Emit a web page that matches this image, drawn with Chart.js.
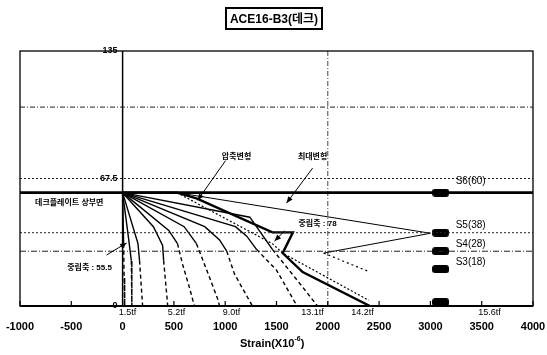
<!DOCTYPE html>
<html>
<head>
<meta charset="utf-8">
<script src="https://cdn.jsdelivr.net/npm/chart.js@4/dist/chart.umd.min.js"></script>
<style>
  body { margin: 0; background: #fff; }
  #wrap { position: relative; width: 547px; height: 355px; }
  #title {
    position: absolute; left: 225px; top: 7px; width: 94px; height: 19px;
    border: 2px solid #000; text-align: center; line-height: 19px;
    font: bold 12px "Liberation Sans", "Noto Sans CJK KR", sans-serif; color: #000;
  }
</style>
</head>
<body>
<div id="wrap">
  <div id="title">ACE16-B3(데크)</div>
  <canvas id="chart" width="547" height="355"></canvas>
</div>
<script>
// axis ticks
const xTicks = [-1000, -500, 0, 500, 1000, 1500, 2000, 2500, 3000, 3500, 4000];
const yTicks = [0, 67.5, 135];

// strain profiles [strain, height] for each load step
const step1 = [[0, 60], [10, 33], [15, 15], [20, 0]];
const step2 = [[0, 60], [60, 35], [85, 24], [90, 0]];
const step3 = [[0, 60], [150, 33], [165, 24], [195, 0]];
const step4 = [[0, 60], [300, 42], [390, 32], [400, 24], [440, 0]];
const step5 = [[0, 60], [450, 40], [535, 33], [585, 22], [650, 10], [700, 0]];
const step6 = [[0, 60], [600, 42], [720, 33], [820, 19], [925, 4], [945, 0]];
const step7 = [[0, 60], [800, 42], [945, 35], [1015, 29], [1090, 17], [1265, 0]];
const step8 = [[0, 60], [1100, 42], [1210, 37], [1305, 30], [1500, 19], [1700, 0]];
const step9 = [[0, 60], [1240, 47], [1460, 30], [1755, 10], [1900, 0]];
const stepMax = [[0, 60], [530, 60], [720, 57], [1460, 39], [1660, 39], [1560, 28], [1755, 18], [2410, 0]];
const stepMaxDot = [[530, 60], [1460, 33], [1560, 28], [2400, 3]];
const gaugeLine = [[530, 60], [3000, 38.5], [1960, 28]];
const gaugeLineDot = [[1960, 28], [2410, 18]];

// load labels along the bottom
const loadNames = ['1.5tf', '5.2tf', '9.0tf', '13.1tf', '14.2tf', '15.6tf'];
const loadAt = [48, 526, 1062, 1851, 2339, 3577];

// gauges
const gaugeX = 3100;
const gaugeY = [60, 38.8, 29, 19.5, 2];
const gaugeNames = ['S6(60)', 'S5(38)', 'S4(28)', 'S3(18)', ''];

// reference levels
const deckTop = 60;
const levelLines = [105.3, 67.5, 38.8, 29];

// callouts: text, text position, arrow start, arrow tip
const notes = [
  ['압축변형', [1111, 79], [1004, 77], [731, 56]],
  ['최대변형', [1852, 79], [1852, 73], [1598, 54.5]],
  ['중립축 : 78', [1900, 43.4], [1579, 39.7], [1481, 34.4]],
  ['중립축 : 55.5', [-322, 20.1], [-156, 27], [39, 33.4]]
];

const pts = arr => arr.map(([x, y]) => ({ x, y }));

// rounded black block for gauge markers
const block = document.createElement('canvas');
block.width = 17; block.height = 8;
(() => {
  const c = block.getContext('2d');
  c.fillStyle = '#000';
  c.beginPath();
  c.roundRect(0, 0, 17, 8, 3);
  c.fill();
})();

const lowDash = { borderDash: c => (c.p1.parsed.y < 24 ? [4, 3] : undefined) };

const line = (data, extra) => Object.assign({
  type: 'line', data: pts(data), borderColor: '#000', borderWidth: 1.2,
  pointRadius: 0, fill: false, tension: 0
}, extra || {});

const datasets = [];
levelLines.forEach((v, i) => {
  const dash = [[5, 2, 1, 2], [2, 2], [2, 2], [6, 2, 1, 2]][i];
  datasets.push(line([[-1000, v], [4000, v]], { borderWidth: 1, borderDash: dash, borderColor: '#222' }));
});
datasets.push(line([[-1000, deckTop], [4000, deckTop]], { borderWidth: 2.6 }));
[step1, step2, step3, step4, step5, step6, step7, step8, step9].forEach(s => {
  datasets.push(line(s, { borderWidth: 1.4, segment: lowDash }));
});
datasets.push(line(stepMax, { borderWidth: 2.4 }));
datasets.push(line(stepMaxDot, { borderWidth: 1.2, borderDash: [2, 2] }));
datasets.push(line(gaugeLine, { borderWidth: 1 }));
datasets.push(line(gaugeLineDot, { borderWidth: 1.2, borderDash: [2, 3] }));
datasets.push({
  type: 'scatter', data: gaugeY.map(y => ({ x: gaugeX, y })),
  pointStyle: block, pointRadius: 8, backgroundColor: '#000'
});

const font = (w, s) => w + ' ' + s + 'px "Liberation Sans", "Noto Sans CJK KR", sans-serif';

const decor = {
  id: 'decor',
  beforeDatasetsDraw(chart) {
    const { ctx, chartArea: a, scales: { x, y } } = chart;
    ctx.save();
    ctx.strokeStyle = '#000';
    // x = 0 axis
    ctx.lineWidth = 1.5;
    ctx.beginPath();
    ctx.moveTo(x.getPixelForValue(0), a.top);
    ctx.lineTo(x.getPixelForValue(0), a.bottom);
    ctx.stroke();
    // x = 2000 guide
    ctx.lineWidth = 1;
    ctx.strokeStyle = '#444';
    ctx.setLineDash([5, 2, 1, 2]);
    ctx.beginPath();
    ctx.moveTo(x.getPixelForValue(2000), a.top);
    ctx.lineTo(x.getPixelForValue(2000), a.bottom);
    ctx.stroke();
    ctx.restore();
  },
  afterDraw(chart) {
    const { ctx, chartArea: a, scales: { x, y } } = chart;
    ctx.save();
    ctx.strokeStyle = '#000';
    ctx.fillStyle = '#000';
    ctx.lineWidth = 1.3;
    ctx.strokeRect(a.left, a.top, a.right - a.left, a.bottom - a.top);
    ctx.lineWidth = 2.2;
    ctx.beginPath();
    ctx.moveTo(a.left, a.bottom);
    ctx.lineTo(a.right, a.bottom);
    ctx.stroke();

    // inner ticks and tick labels
    ctx.lineWidth = 1.2;
    ctx.font = font('bold', 11);
    ctx.textAlign = 'center';
    ctx.textBaseline = 'middle';
    xTicks.forEach(v => {
      const px = x.getPixelForValue(v);
      ctx.beginPath();
      ctx.moveTo(px, a.bottom);
      ctx.lineTo(px, a.bottom - 5);
      ctx.stroke();
      ctx.fillText(String(v), px, a.bottom + 21);
    });

    ctx.font = font('bold', 9);
    ctx.textAlign = 'right';
    yTicks.forEach(v => {
      ctx.fillText(String(v), x.getPixelForValue(0) - 5, y.getPixelForValue(v));
    });

    // load step labels
    ctx.font = font('normal', 9);
    ctx.textAlign = 'center';
    loadNames.forEach((t, i) => ctx.fillText(t, x.getPixelForValue(loadAt[i]), a.bottom + 7));

    // gauge names
    ctx.font = font('normal', 10);
    ctx.textAlign = 'left';
    gaugeNames.forEach((t, i) => {
      if (!t) return;
      const off = i === 0 ? 11 : 7;
      ctx.fillText(t, x.getPixelForValue(gaugeX) + 15, y.getPixelForValue(gaugeY[i]) - off);
    });

    // deck label
    ctx.font = font('bold', 8);
    ctx.textAlign = 'center';
    ctx.fillText('데크플레이트 상부면', x.getPixelForValue(-520), y.getPixelForValue(deckTop) + 10);

    // callouts
    notes.forEach(([t, at, from, to]) => {
      ctx.font = font('bold', 8);
      ctx.textAlign = 'center';
      ctx.fillText(t, x.getPixelForValue(at[0]), y.getPixelForValue(at[1]));
      const x0 = x.getPixelForValue(from[0]), y0 = y.getPixelForValue(from[1]);
      const x1 = x.getPixelForValue(to[0]), y1 = y.getPixelForValue(to[1]);
      ctx.lineWidth = 1;
      ctx.beginPath();
      ctx.moveTo(x0, y0);
      ctx.lineTo(x1, y1);
      ctx.stroke();
      const ang = Math.atan2(y1 - y0, x1 - x0);
      ctx.beginPath();
      ctx.moveTo(x1, y1);
      ctx.lineTo(x1 - 7 * Math.cos(ang - 0.4), y1 - 7 * Math.sin(ang - 0.4));
      ctx.lineTo(x1 - 7 * Math.cos(ang + 0.4), y1 - 7 * Math.sin(ang + 0.4));
      ctx.closePath();
      ctx.fill();
    });

    // axis title
    ctx.font = font('bold', 11);
    ctx.textAlign = 'left';
    const tx = 240, ty = a.bottom + 38;
    ctx.fillText('Strain(X10', tx, ty);
    let w = ctx.measureText('Strain(X10').width;
    ctx.font = font('bold', 7);
    ctx.fillText('-6', tx + w, ty - 5);
    w += ctx.measureText('-6').width;
    ctx.font = font('bold', 11);
    ctx.fillText(')', tx + w, ty);
    ctx.restore();
  }
};

new Chart(document.getElementById('chart'), {
  data: { datasets },
  options: {
    responsive: false,
    animation: false,
    layout: { padding: { left: 20, top: 51, right: 14, bottom: 49 } },
    plugins: { legend: { display: false }, title: { display: false }, tooltip: { enabled: false } },
    scales: {
      x: { type: 'linear', min: -1000, max: 4000, display: false },
      y: { type: 'linear', min: 0, max: 135, display: false }
    }
  },
  plugins: [decor]
});
</script>
</body>
</html>
